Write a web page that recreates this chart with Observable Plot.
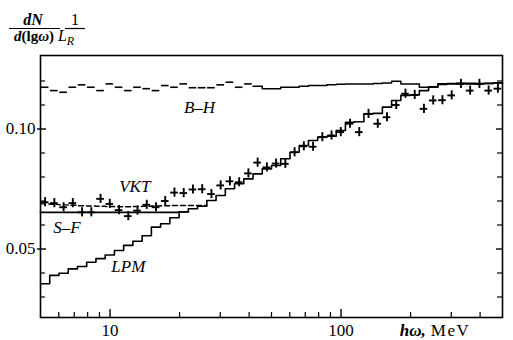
<!DOCTYPE html>
<html><head><meta charset="utf-8">
<script src="https://cdn.jsdelivr.net/npm/d3@7"></script>
<script src="https://cdn.jsdelivr.net/npm/@observablehq/plot@0.6"></script>
<style>
html,body{margin:0;padding:0;background:#fff;}
#chart{width:513px;height:340px;}
</style></head><body><div id="chart"></div>
<script>
// Photon energy bin edges (MeV), 25 bins per decade
const binEdges = [5.000, 5.482, 6.011, 6.591, 7.227, 7.924, 8.689, 9.527, 10.446, 11.454,
  12.559, 13.771, 15.100, 16.557, 18.154, 19.905, 21.826, 23.932, 26.241, 28.773,
  31.548, 34.592, 37.930, 41.590, 45.603, 50.000, 54.82, 60.11, 65.91, 72.27,
  79.24, 86.89, 95.27, 104.46, 114.54, 125.59, 137.71, 151.00, 165.57, 181.54,
  199.05, 218.26, 239.32, 262.41, 287.73, 315.48, 345.92, 379.30, 415.90, 456.03, 500.0];

// LPM histogram
const lpmValues = [0.0355, 0.0390, 0.0399, 0.0417, 0.0427, 0.0445, 0.0460, 0.0475, 0.0494, 0.0515,
  0.0532, 0.0555, 0.0591, 0.0605, 0.0630, 0.0655, 0.0668, 0.0678, 0.0702, 0.0723,
  0.0751, 0.0772, 0.0792, 0.0813, 0.0834, 0.0848, 0.0876, 0.0903, 0.0931, 0.0952,
  0.0966, 0.0970, 0.0994, 0.1028, 0.1030, 0.1063, 0.1065, 0.1091, 0.1119, 0.1140,
  0.1142, 0.1160, 0.1174, 0.1188, 0.1188, 0.1190, 0.1190, 0.1188, 0.1190, 0.1192];

// Bethe-Heitler histogram
const bhValues = [0.1174, 0.1160, 0.1153, 0.1174, 0.1184, 0.1174, 0.1160, 0.1188, 0.1174, 0.1160,
  0.1174, 0.1168, 0.1160, 0.1181, 0.1174, 0.1188, 0.1172, 0.1172, 0.1172, 0.1184,
  0.1195, 0.1174, 0.1188, 0.1178, 0.1168, 0.1168, 0.1174, 0.1174, 0.1178, 0.1181,
  0.1181, 0.1184, 0.1186, 0.1188, 0.1188, 0.1188, 0.1190, 0.1192, 0.1199, 0.1188,
  0.1188, 0.1174, 0.1176, 0.1185, 0.1190, 0.1190, 0.1188, 0.1190, 0.1190, 0.1192];

// S-F (flat part at low energy)
const sfValues = [0.0653, 0.0653, 0.0653, 0.0653, 0.0653, 0.0653, 0.0653, 0.0653, 0.0653, 0.0653,
  0.0653, 0.0653, 0.0653, 0.0653, 0.0653, 0.0655];

// VKT (dashed, low energy part)
const vktValues = [0.0688, 0.0686, 0.0684, 0.0682, 0.0680, 0.0679, 0.0678, 0.0677, 0.0676, 0.0676,
  0.0677, 0.0678, 0.0679, 0.0680, 0.0681, 0.0681, 0.0681, 0.0681];

// Experimental points
const expValues = [0.0695, 0.0691, 0.0674, 0.0691, 0.0653, 0.0653, 0.0709, 0.0688, 0.0662, 0.0637,
  0.0660, 0.0684, 0.0674, 0.0700, 0.0735, 0.0733, 0.0748, 0.0749, 0.0729, 0.0765,
  0.0782, 0.0778, 0.0815, 0.0860, 0.0840, 0.0856, 0.0855, 0.0903, 0.0928, 0.0926,
  0.0966, 0.0973, 0.0987, 0.1022, 0.0987, 0.1063, 0.1022, 0.1049, 0.1100, 0.1147,
  0.1142, 0.1084, 0.1119, 0.1120, 0.1140, 0.1188, 0.1160, 0.1188, 0.1160, 0.1168];
const expError = 0.0019;

const xTickLabels = [10, 100];
const xMinorTicks = [6, 7, 8, 9, 20, 30, 40, 50, 60, 70, 80, 90, 200, 300, 400];
const yTickLabels = [0.05, 0.10];
const yMinorTicks = [0.03, 0.04, 0.06, 0.07, 0.08, 0.09, 0.11, 0.12];

const curveNames = ["B\u2013H", "VKT", "S\u2013F", "LPM"];
const curveLabelX = [24.4, 12.8, 6.5, 12.0];
const curveLabelY = [0.1090, 0.0760, 0.0588, 0.0427];

// helpers
const steps = vals => vals.flatMap((v, i) => [{x: binEdges[i], y: v}, {x: binEdges[i + 1], y: v}]);
const bins = vals => vals.map((v, i) => ({x1: binEdges[i], x2: binEdges[i + 1], xc: Math.sqrt(binEdges[i] * binEdges[i + 1]), y: v, i}));

const W = 513, H = 340, mL = 40, mR = 11, mT = 55, mB = 23;
const pW = W - mL - mR, pH = H - mT - mB;
const serif = "Liberation Serif";

const bhBins = bins(bhValues);
const expBins = bins(expValues);
const labels = curveNames.map((n, i) => ({name: n, x: curveLabelX[i], y: curveLabelY[i]}));

const svg = Plot.plot({
  width: W, height: H,
  marginLeft: mL, marginRight: mR, marginTop: mT, marginBottom: mB,
  style: {fontFamily: serif, fontSize: "17px", background: "#fff", color: "#000"},
  x: {type: "log", domain: [5, 500], label: null},
  y: {domain: [0.021458, 0.130625], label: null},
  marks: [
    // ticks
    Plot.tickX(xMinorTicks, {x: d => d, insetTop: pH - 5, strokeWidth: 1.2}),
    Plot.tickX(xTickLabels, {x: d => d, insetTop: pH - 8, strokeWidth: 1.4}),
    Plot.tickY(yMinorTicks, {y: d => d, insetRight: pW - 5, strokeWidth: 1.2}),
    Plot.tickY(yMinorTicks, {y: d => d, insetLeft: pW - 5, strokeWidth: 1.2}),
    Plot.tickY(yTickLabels, {y: d => d, insetRight: pW - 6, insetLeft: -3, strokeWidth: 1.4}),
    Plot.tickY(yTickLabels, {y: d => d, insetLeft: pW - 6, strokeWidth: 1.4}),
    Plot.axisX(xTickLabels, {tickSize: 0, tickPadding: 6, tickFormat: d => String(d), fontSize: 17, label: null}),
    Plot.axisY(yTickLabels, {tickSize: 0, tickPadding: 5, tickFormat: d3.format(".2f"), fontSize: 17, label: null}),
    // B-H: separate bin segments at low energies, continuous at high energies
    Plot.ruleY(bhBins.filter(d => d.i < 23), {x1: "x1", x2: "x2", y: "y", insetLeft: 0.8, insetRight: 0.8, strokeWidth: 1.6}),
    Plot.line(steps(bhValues).slice(46), {x: "x", y: "y", strokeWidth: 1.5}),
    // S-F
    Plot.line(steps(sfValues), {x: "x", y: "y", strokeWidth: 1.8}),
    // VKT
    Plot.line(steps(vktValues), {x: "x", y: "y", strokeWidth: 1.4, strokeDasharray: "5,3"}),
    // LPM
    Plot.line(steps(lpmValues), {x: "x", y: "y", strokeWidth: 1.6}),
    // experimental crosses
    Plot.ruleY(expBins, {x1: "x1", x2: "x2", y: "y", insetLeft: 0.8, insetRight: 0.8, strokeWidth: 1.9}),
    Plot.ruleX(expBins, {x: "xc", y1: d => d.y - expError, y2: d => d.y + expError, strokeWidth: 1.9}),
    // curve labels
    Plot.text(labels, {x: "x", y: "y", text: "name", fontSize: 17, fontStyle: "italic", fontFamily: serif}),
    Plot.frame({strokeWidth: 1.6})
  ]
});
document.getElementById("chart").appendChild(svg);

// y-axis title: dN/d(lg ω) · 1/L_R
const s = d3.select(svg);
const g = s.append("g").attr("font-family", serif).attr("fill", "#000");
g.append("text").attr("x", 33).attr("y", 25).attr("text-anchor", "middle")
  .attr("font-size", 16).attr("font-style", "italic").attr("font-weight", "bold").text("dN");
g.append("line").attr("x1", 9).attr("x2", 60).attr("y1", 28.5).attr("y2", 28.5).attr("stroke", "#000").attr("stroke-width", 1.2);
const den = g.append("text").attr("x", 34).attr("y", 41).attr("text-anchor", "middle")
  .attr("font-size", 15).attr("font-weight", "bold");
den.append("tspan").attr("font-style", "italic").text("d");
den.append("tspan").text("(lg");
den.append("tspan").attr("font-style", "italic").text("\u03c9");
den.append("tspan").text(")");
g.append("text").attr("x", 75).attr("y", 25).attr("text-anchor", "middle").attr("font-size", 16).text("1");
g.append("line").attr("x1", 65).attr("x2", 85).attr("y1", 28.5).attr("y2", 28.5).attr("stroke", "#000").attr("stroke-width", 1.2);
const lr = g.append("text").attr("x", 66).attr("y", 41).attr("font-size", 16).attr("font-style", "italic");
lr.append("tspan").text("L");
lr.append("tspan").attr("font-size", 12).attr("dy", 4).text("R");

// x-axis title
const xt = g.append("text").attr("x", 435).attr("y", 335.5).attr("font-size", 17);
xt.append("tspan").attr("font-style", "italic").attr("font-weight", "bold").text("h\u03c9,");
xt.append("tspan").attr("dx", 5).attr("letter-spacing", "1.5px").text("MeV");
</script>
</body></html>
